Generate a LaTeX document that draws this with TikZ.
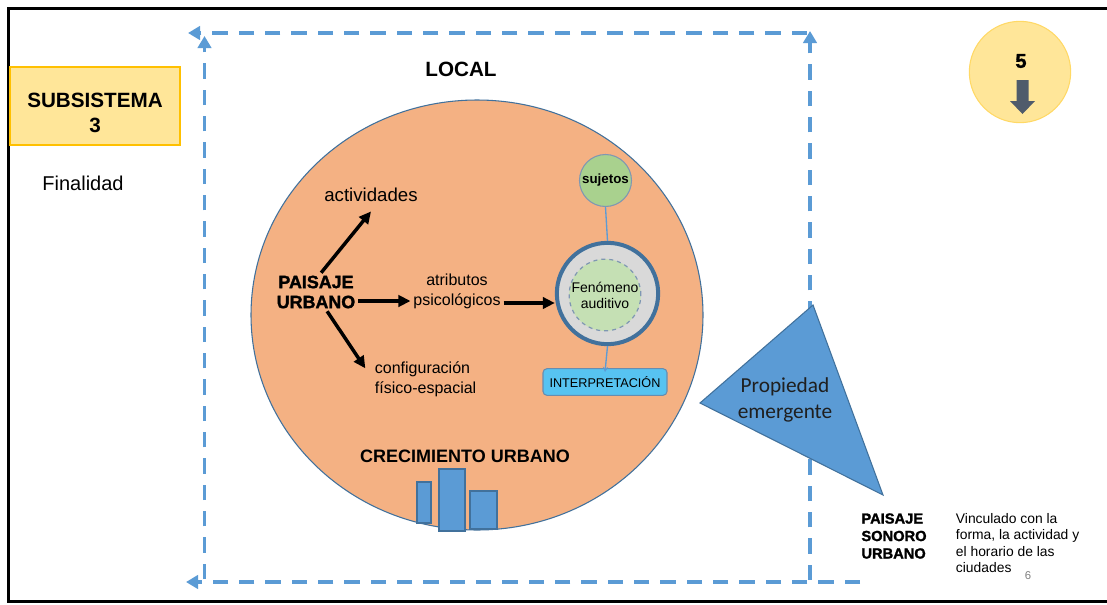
\documentclass[tikz,border=0pt]{standalone}
\usepackage{fontspec}
\setmainfont{Liberation Sans}
\newfontfamily\calibrifont{Carlito}
\newfontfamily\heavyfont[BoldFeatures={FakeBold=1.6}]{Liberation Sans}
\usetikzlibrary{arrows.meta,calc}

\definecolor{dashblue}{HTML}{5B9BD5}
\definecolor{edgeblue}{HTML}{41719C}
\definecolor{salmon}{HTML}{F4B183}
\definecolor{paleyellow}{HTML}{FFE699}
\definecolor{gold}{HTML}{FFC000}
\definecolor{lightgold}{HTML}{FFD966}
\definecolor{leaf}{HTML}{A9D18E}
\definecolor{mint}{HTML}{C5E0B4}
\definecolor{silver}{HTML}{D9D9D9}
\definecolor{sky}{HTML}{57C3F1}
\definecolor{slate}{HTML}{4F5B6B}
\definecolor{greyedge}{HTML}{7F97B2}
\definecolor{darktext}{HTML}{1F1F1F}

\newcommand\fsz[2]{\fontsize{#1}{#2}\selectfont}

\tikzset{
  frameline/.style={draw=black, line width=2.25pt},
  loopline/.style={draw=dashblue, line width=2.8pt, dash pattern=on 11.5pt off 8.25pt,
                   -{Triangle[length=9pt,width=10pt]}},
  push/.style={draw=black, line width=2.6pt, -{Triangle[length=9pt,width=8.5pt]}},
  link/.style={draw=dashblue, line width=1pt},
  txt/.style={inner sep=2pt, align=center, text=black},
  bar/.style={fill=dashblue, draw=edgeblue, line width=0.8pt},
}

\begin{document}
\begin{tikzpicture}[x=0.75pt,y=-0.75pt]
\useasboundingbox (0,0) rectangle (1107,604);
\fill[white] (0,0) rectangle (1107,604);

% outer frame (top, left and bottom sides)
\draw[frameline] (1107,8.5) -- (8.5,8.5) -- (8.5,601.5) -- (1107,601.5);

% subsystem label
\node[draw=gold, fill=paleyellow, line width=0.8pt, minimum width=127.5pt, minimum height=58.5pt, inner sep=0pt]
  (sub) at (95,106) {};
\node[txt, font=\bfseries\fsz{15.5pt}{18.75pt}] (subtext) at (95,112.5) {SUBSISTEMA\\3};
\node[txt, font=\fsz{15pt}{18pt}] (fin) at (83,183) {Finalidad};

% scale label
\node[txt, font=\bfseries\fsz{15.5pt}{18pt}] (local) at (461,69) {LOCAL};

% step marker
\node[circle, fill=paleyellow, draw=lightgold, line width=0.8pt, minimum size=76pt, inner sep=0pt]
  (stepmark) at (1020,72) {};
\node[txt, font=\heavyfont\bfseries\fsz{15pt}{18pt}] (stepnum) at (1021,61) {5};
\fill[slate] (1016.5,80) -- (1028.5,80) -- (1028.5,101) -- (1035,101) -- (1022.5,114)
  -- (1010,101) -- (1016.5,101) -- cycle;

% urban landscape disc
\draw[fill=salmon, draw=edgeblue, line width=0.8pt] (477,315) ellipse [x radius=226, y radius=215];

\node[txt, font=\fsz{14pt}{16pt}] (act) at (371,195) {actividades};
\node[txt, font=\heavyfont\bfseries\fsz{13.4pt}{15pt}] (pu) at (316,292) {PAISAJE\\URBANO};
\node[txt, font=\fsz{12pt}{15pt}] (attr) at (457,291) {atributos\\psicológicos};
\node[txt, font=\fsz{12pt}{15pt}, align=left, anchor=west] (conf) at (372,379)
  {configuración\\físico-espacial};

% sound phenomenon
\node[circle, fill=leaf, draw=greyedge, line width=0.8pt, minimum size=39pt, inner sep=0pt,
      font=\bfseries\fsz{10pt}{12pt}] (suj) at (605.5,180.5) {sujetos};
\node[circle, fill=silver, draw=edgeblue, line width=3pt, minimum size=76pt, inner sep=0pt]
  (fen) at (607.5,293.5) {};
\node[circle, fill=mint, draw=greyedge, line width=0.9pt, dashed, minimum size=50pt, inner sep=0pt,
      align=center, font=\fsz{10.5pt}{12pt}] (fenin) at (605,295) {Fenómeno\\auditivo};
\node[rounded corners=3pt, fill=sky, draw=edgeblue!80, line width=0.8pt, minimum width=93pt,
      minimum height=20pt, inner sep=0pt, font=\fsz{9.5pt}{11pt}] (interp) at (605,382) {INTERPRETACIÓN};

\draw[link] (suj.south) -- (fen.north);
\draw[link, -{Stealth[length=4pt,width=4pt]}] (fen.south) -- ([yshift=-3pt]interp.north);

% relations of the urban landscape
\draw[push] (pu.75) -- ([yshift=-5pt]act.south);
\draw[push] ([yshift=-6.75pt]pu.east) -- ([yshift=-6.75pt]pu.east -| attr.west);
\coordinate (attrout) at ([yshift=-9pt]attr.east);
\draw[push] (attrout) -- (attrout -| fen.west);
\draw[push] (pu.-60) -- ([shift={(-5pt,8pt)}]conf.west);

% urban growth
\node[txt, font=\bfseries\fsz{13.5pt}{16pt}] (crec) at (465,456) {CRECIMIENTO URBANO};
\draw[bar] (417,482) rectangle (431,523);
\draw[bar] (439,469) rectangle (465,531);
\draw[bar] (470,491) rectangle (497,529);

% dashed feedback loop
\coordinate (topR) at (807,33);
\coordinate (topL) at (188,33);
\coordinate (leftB) at (204.5,579);
\coordinate (leftT) at (204.5,36);
\coordinate (botR) at (860,582);
\coordinate (botL) at (186,582);
\coordinate (rightB) at (810,580);
\coordinate (rightT) at (810,31);
\draw[loopline] (topR) -- (topL);
\draw[loopline] (leftB) -- (leftT);
\draw[loopline] (botR) -- (botL);
\draw[loopline] (rightB) -- (rightT);

% emergent property
\coordinate (tA) at (813,305);
\coordinate (tB) at (700,403);
\coordinate (tC) at (883,495);
\draw[fill=dashblue, draw=edgeblue, line width=0.8pt] (tA) -- (tB) -- (tC) -- cycle;
\node[txt, text=darktext, font=\calibrifont\fsz{16pt}{19.5pt}] (prop) at (785,400) {Propiedad\\emergente};

% urban soundscape
\node[txt, align=left, anchor=west, font=\heavyfont\bfseries\fsz{11pt}{13.1pt}] (pso) at (858.5,536)
  {PAISAJE\\SONORO\\URBANO};
\node[txt, align=left, anchor=west, font=\fsz{10.4pt}{12.2pt}] (vinc) at (953,543)
  {Vinculado con la\\forma, la actividad y\\el horario de las\\ciudades};
\node[txt, text=gray, font=\fsz{8.5pt}{10pt}] (pagenum) at (1028,576) {6};
\end{tikzpicture}
\end{document}
